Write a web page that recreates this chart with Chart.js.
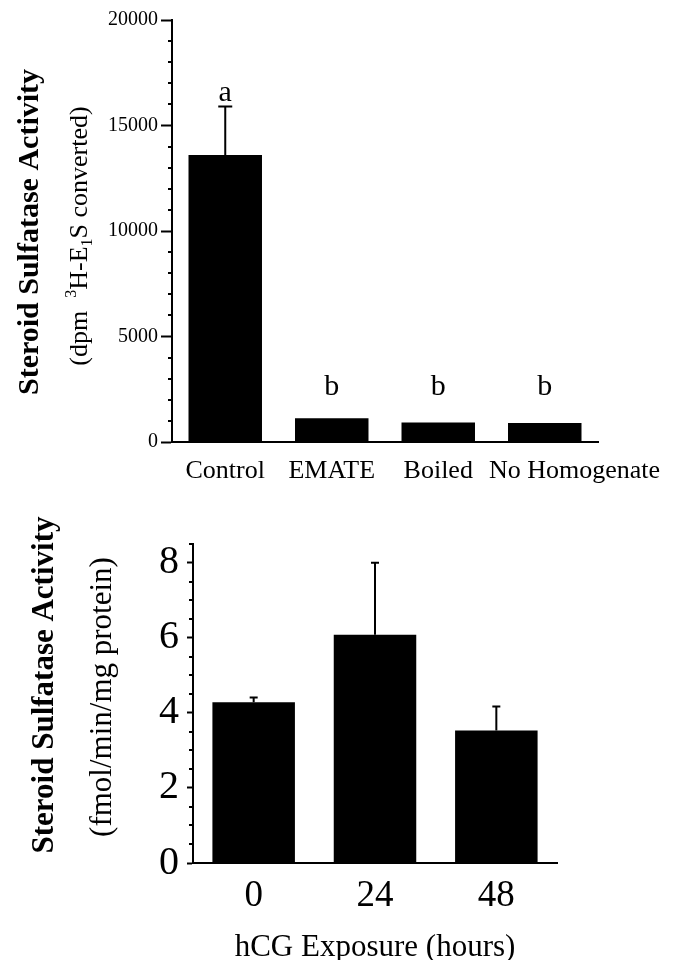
<!DOCTYPE html>
<html>
<head>
<meta charset="utf-8">
<script src="https://cdn.jsdelivr.net/npm/chart.js@4.4.0/dist/chart.umd.min.js"></script>
<style>
  html, body { margin: 0; padding: 0; background: #fff; }
  #wrap { position: relative; width: 683px; height: 960px; }
  canvas { position: absolute; left: 0; }
  #topChart { top: 0; }
  #bottomChart { top: 500px; }
</style>
</head>
<body>
<div id="wrap">
  <canvas id="topChart" width="683" height="500"></canvas>
  <canvas id="bottomChart" width="683" height="460"></canvas>
</div>
<script>
// top panel data
const topCategories = ['Control', 'EMATE', 'Boiled', 'No Homogenate'];
const topValues = [13600, 1130, 930, 900];
const topErrors = [2300, 0, 0, 0];
const topLetters = ['a', 'b', 'b', 'b'];
const topTicks = [0, 5000, 10000, 15000, 20000];

// bottom panel data
const bottomCategories = ['0', '24', '48'];
const bottomValues = [4.28, 6.08, 3.53];
const bottomErrors = [0.13, 1.92, 0.64];
const bottomTicks = [0, 2, 4, 6, 8];

const serif = "'Liberation Serif', 'Times New Roman', serif";

// draws text turned 90deg, parts can be raised or lowered (sup / sub)
function drawRotated(ctx, cx, cy, parts, size, weight) {
  ctx.save();
  ctx.translate(cx, cy);
  ctx.rotate(-Math.PI / 2);
  ctx.fillStyle = '#000';
  ctx.textBaseline = 'alphabetic';
  ctx.textAlign = 'left';
  const fontFor = p => weight + ' ' + (p.mode ? Math.round(size * 0.62) : size) + 'px ' + serif;
  let total = 0;
  parts.forEach(p => {
    ctx.font = fontFor(p);
    p.w = ctx.measureText(p.t).width;
    total += p.w;
  });
  let x = -total / 2;
  const base = size * 0.33;
  parts.forEach(p => {
    ctx.font = fontFor(p);
    const dy = p.mode === 'sup' ? -size * 0.4 : p.mode === 'sub' ? size * 0.2 : 0;
    ctx.fillText(p.t, x, base + dy);
    x += p.w;
  });
  ctx.restore();
}

// minor ticks, error bars, letters, category labels and the axis titles
const extras = {
  id: 'extras',
  afterDatasetsDraw(chart, args, opts) {
    const ctx = chart.ctx;
    const y = chart.scales.y;
    const meta = chart.getDatasetMeta(0);
    const axisX = chart.chartArea.left;
    ctx.save();
    ctx.strokeStyle = '#000';
    ctx.lineWidth = 2;
    for (let v = y.min; v <= y.max + 1e-9; v += opts.minorStep) {
      if (opts.majorTicks.some(m => Math.abs(m - v) < 1e-6)) continue;
      const py = Math.round(y.getPixelForValue(v));
      ctx.beginPath();
      ctx.moveTo(axisX - opts.minorLen, py);
      ctx.lineTo(axisX, py);
      ctx.stroke();
    }
    meta.data.forEach((bar, i) => {
      const err = opts.errors[i];
      if (!err) return;
      const top = y.getPixelForValue(opts.values[i] + err);
      ctx.beginPath();
      ctx.moveTo(bar.x, bar.y);
      ctx.lineTo(bar.x, top);
      ctx.moveTo(bar.x - opts.capHalf, top);
      ctx.lineTo(bar.x + opts.capHalf, top);
      ctx.stroke();
    });
    ctx.fillStyle = '#000';
    ctx.textBaseline = 'alphabetic';
    if (opts.letters) {
      ctx.font = '30px ' + serif;
      ctx.textAlign = 'center';
      // letters over the short bars share one line
      const lowTop = Math.min(...meta.data.map((bar, i) => opts.errors[i] ? Infinity : bar.y));
      meta.data.forEach((bar, i) => {
        const by = opts.errors[i]
          ? y.getPixelForValue(opts.values[i] + opts.errors[i]) - 6
          : lowTop - 23;
        ctx.fillText(opts.letters[i], bar.x, by);
      });
    }
    if (opts.catLabels) {
      // centred under the bars, pushed right when a long label would collide
      ctx.font = opts.catSize + 'px ' + serif;
      ctx.textAlign = 'left';
      const xs = chart.scales.x;
      let prevRight = -Infinity;
      chart.data.labels.forEach((lab, i) => {
        const w = ctx.measureText(lab).width;
        let left = xs.getPixelForTick(i) - w / 2;
        if (left < prevRight + 16) left = prevRight + 16;
        ctx.fillText(lab, left, chart.chartArea.bottom + opts.catOffset);
        prevRight = left + w;
      });
    }
    ctx.restore();
    drawRotated(ctx, opts.titleX, opts.titleCy, [{ t: 'Steroid Sulfatase Activity' }], opts.titleSize, 'bold');
    drawRotated(ctx, opts.subX, opts.subCy, opts.subParts, opts.subSize, 'normal');
  }
};

new Chart(document.getElementById('topChart'), {
  type: 'bar',
  data: {
    labels: topCategories,
    datasets: [{
      data: topValues,
      backgroundColor: '#000',
      barPercentage: 0.69,
      categoryPercentage: 1
    }]
  },
  options: {
    responsive: false,
    animation: false,
    layout: { padding: { left: 0, right: 85, top: 20, bottom: 0 } },
    plugins: {
      legend: { display: false },
      tooltip: { enabled: false },
      extras: {
        values: topValues,
        errors: topErrors,
        letters: topLetters,
        majorTicks: topTicks,
        minorStep: 1000,
        minorLen: 4,
        capHalf: 7,
        catLabels: true,
        catSize: 26,
        catOffset: 36,
        titleX: 28, titleCy: 232, titleSize: 30,
        subX: 78, subCy: 236, subSize: 26,
        subParts: [{ t: '(dpm  ' }, { t: '3', mode: 'sup' }, { t: 'H-E' }, { t: '1', mode: 'sub' }, { t: 'S converted)' }]
      }
    },
    scales: {
      x: {
        grid: { display: false },
        border: { color: '#000', width: 2 },
        ticks: { display: false },
        afterFit: s => { s.height = 58; }
      },
      y: {
        min: 0,
        max: 20000,
        afterBuildTicks: s => { s.ticks = topTicks.map(v => ({ value: v })); },
        grid: { drawOnChartArea: false, tickLength: 11, color: '#000', tickWidth: 2 },
        border: { color: '#000', width: 2 },
        ticks: { color: '#000', font: { family: serif, size: 20 }, padding: 3, callback: v => String(v) },
        afterFit: s => { s.width = 172; }
      }
    }
  },
  plugins: [extras]
});

new Chart(document.getElementById('bottomChart'), {
  type: 'bar',
  data: {
    labels: bottomCategories,
    datasets: [{
      data: bottomValues,
      backgroundColor: '#000',
      barPercentage: 0.68,
      categoryPercentage: 1
    }]
  },
  options: {
    responsive: false,
    animation: false,
    layout: { padding: { left: 0, right: 126, top: 44, bottom: 0 } },
    plugins: {
      legend: { display: false },
      tooltip: { enabled: false },
      extras: {
        values: bottomValues,
        errors: bottomErrors,
        majorTicks: bottomTicks,
        minorStep: 0.5,
        minorLen: 4,
        capHalf: 4,
        titleX: 43, titleCy: 185, titleSize: 31,
        subX: 101, subCy: 197, subSize: 31,
        subParts: [{ t: '(fmol/min/mg protein)' }]
      }
    },
    scales: {
      x: {
        grid: { display: false },
        border: { color: '#000', width: 2 },
        ticks: { color: '#000', font: { family: serif, size: 37 }, padding: 3, maxRotation: 0, autoSkip: false },
        title: { display: true, text: 'hCG Exposure (hours)', color: '#000', font: { family: serif, size: 31 }, padding: { top: 0, bottom: -6 } },
        afterFit: s => { s.height = 97; }
      },
      y: {
        min: 0,
        max: 8.5,
        afterBuildTicks: s => { s.ticks = bottomTicks.map(v => ({ value: v })); },
        grid: { drawOnChartArea: false, tickLength: 6, color: '#000', tickWidth: 2 },
        border: { color: '#000', width: 2 },
        ticks: { color: '#000', font: { family: serif, size: 40 }, padding: 8 },
        afterFit: s => { s.width = 193; }
      }
    }
  },
  plugins: [extras]
});
</script>
</body>
</html>
